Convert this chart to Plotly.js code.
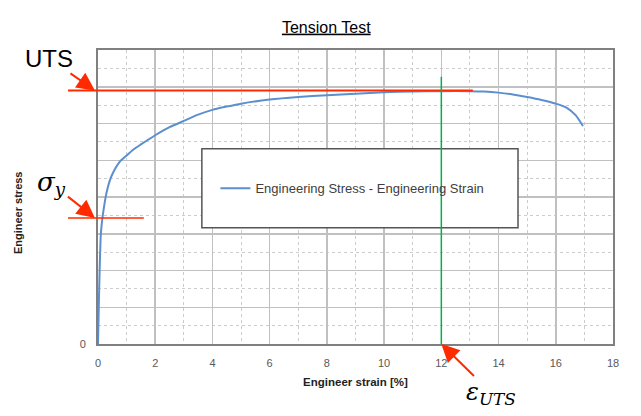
<!DOCTYPE html>
<html>
<head>
<meta charset="utf-8">
<script src="https://cdn.plot.ly/plotly-3.0.1.min.js"></script>
<style>html,body{margin:0;padding:0;background:#fff;}#chart{width:641px;height:416px;}</style>
</head>
<body>
<div id="chart"></div>
<script>
// Engineering strain [%] and engineering stress (arbitrary units, axis unlabelled)
var strain = [0, 0.03, 0.06, 0.1, 0.15, 0.2, 0.25, 0.3, 0.4, 0.5, 0.75, 1.0, 1.25, 1.5, 2.0, 2.5, 3.0, 3.5, 4.0, 4.5, 5.0, 6.0, 7.0, 8.0, 9.0, 10.0, 11.0, 12.0, 13.0, 13.5, 14.0, 14.5, 15.0, 15.5, 16.0, 16.4, 16.7, 16.95];
var stress = [0, 1.1, 2.1, 3.0, 3.4, 3.68, 3.92, 4.12, 4.42, 4.62, 4.95, 5.13, 5.3, 5.43, 5.68, 5.9, 6.07, 6.24, 6.37, 6.46, 6.54, 6.65, 6.72, 6.77, 6.81, 6.85, 6.87, 6.88, 6.88, 6.87, 6.84, 6.79, 6.72, 6.64, 6.54, 6.42, 6.22, 5.93];
var xTicks = [0, 2, 4, 6, 8, 10, 12, 14, 16, 18];
var yTicks = [0, 1, 2, 3, 4, 5, 6, 7, 8];
var yTickText = ['0', '', '', '', '', '', '', '', ''];
var seriesName = 'Engineering Stress - Engineering Strain';
var utsStress = 6.9;      // UTS marker line level
var utsLineEnd = 13.1;    // strain where the UTS line stops
var yieldStress = 3.43;   // yield marker line level
var yieldLineEnd = 1.6;   // strain where the yield line stops
var utsStrain = 12;       // strain at UTS (green line)
var utsStrainTop = 7.27;  // top of green line
var markerStart = -1.05;  // marker lines start left of the axis (strain units)
var legendBox = {x0: 3.63, x1: 14.68, y0: 3.16, y1: 5.31};

var xMax = 18, yMax = 8;
function px(v) { return v / xMax; }
function py(v) { return v / yMax; }

var red = '#ff2a00';
var trace = {
  x: strain, y: stress, type: 'scatter', mode: 'lines', name: seriesName,
  line: {color: '#5b8fcf', width: 2, shape: 'spline', smoothing: 0.6}, showlegend: true
};

var layout = {
  width: 641, height: 416,
  margin: {l: 98, r: 28, t: 50, b: 72},
  paper_bgcolor: '#fff', plot_bgcolor: '#fff',
  font: {family: 'Liberation Sans, Arial, sans-serif'},
  title: {text: '<u>Tension Test</u>', font: {size: 16, color: '#000'},
          xref: 'container', yref: 'container', x: 0.509, y: 0.935, xanchor: 'center', yanchor: 'middle'},
  xaxis: {
    range: [0, xMax], tickmode: 'array', tickvals: xTicks, ticktext: xTicks.map(String),
    showgrid: true, gridcolor: '#c0c0c0', gridwidth: 1.5,
    minor: {dtick: 1, tick0: 0, showgrid: true, gridcolor: '#cccccc', griddash: 'dot', gridwidth: 1},
    showline: true, linecolor: '#808080', linewidth: 2, mirror: true,
    zeroline: false, ticks: '', ticklabelstandoff: 8,
    tickfont: {size: 11, color: '#595959'},
    title: {text: '<b>Engineer strain [%]</b>', font: {size: 11.5, color: '#222'}, standoff: 10}
  },
  yaxis: {
    range: [0, yMax], tickmode: 'array', tickvals: yTicks, ticktext: yTickText,
    showgrid: true, gridcolor: '#c0c0c0', gridwidth: 1.5,
    minor: {dtick: 0.5, tick0: 0, showgrid: true, gridcolor: '#cccccc', griddash: 'dot', gridwidth: 1},
    showline: true, linecolor: '#808080', linewidth: 2, mirror: true,
    zeroline: false, ticks: '', ticklabelstandoff: 8,
    tickfont: {size: 11, color: '#595959'}
  },
  showlegend: true,
  legend: {x: 0.228, y: py((legendBox.y0 + legendBox.y1) / 2), xanchor: 'left', yanchor: 'middle',
           bgcolor: 'rgba(0,0,0,0)', borderwidth: 0,
           font: {size: 13, color: '#404040'}},
  shapes: [
    {type: 'rect', xref: 'paper', yref: 'paper', x0: px(legendBox.x0), x1: px(legendBox.x1),
     y0: py(legendBox.y0), y1: py(legendBox.y1), fillcolor: '#fff', line: {color: '#555', width: 1.5}, layer: 'above'},
    {type: 'line', xref: 'paper', yref: 'paper', x0: px(markerStart), x1: px(utsLineEnd),
     y0: py(utsStress), y1: py(utsStress), line: {color: red, width: 2}},
    {type: 'line', xref: 'paper', yref: 'paper', x0: px(markerStart), x1: px(yieldLineEnd),
     y0: py(yieldStress), y1: py(yieldStress), line: {color: red, width: 1.5}},
    {type: 'line', xref: 'paper', yref: 'paper', x0: px(utsStrain), x1: px(utsStrain),
     y0: 0, y1: py(utsStrainTop), line: {color: '#00b050', width: 1.5}, layer: 'above'}
  ],
  annotations: [
    {text: 'UTS', xref: 'paper', yref: 'paper', x: -0.006, y: py(utsStress), showarrow: true,
     ax: -46, ay: -32, arrowhead: 2, arrowsize: 1.8, arrowwidth: 2, arrowcolor: red, standoff: 0,
     font: {size: 24, color: '#000'}},
    {text: '<i>σ<sub>y</sub></i>', xref: 'paper', yref: 'paper', x: -0.006, y: py(yieldStress), showarrow: true,
     ax: -43, ay: -34, arrowhead: 2, arrowsize: 1.8, arrowwidth: 2, arrowcolor: red, standoff: 0,
     font: {size: 26, color: '#000', family: 'DejaVu Serif, Liberation Serif, serif'}},
    {text: '<i>ε<sub>UTS</sub></i>', xref: 'x', yref: 'paper', x: utsStrain, y: 0, showarrow: true,
     ax: 50, ay: 49, arrowhead: 2, arrowsize: 1.8, arrowwidth: 2, arrowcolor: red, standoff: 0,
     font: {size: 24, color: '#000', family: 'DejaVu Serif, Liberation Serif, serif'}},
    {text: '<b>Engineer stress</b>', xref: 'paper', yref: 'paper', x: -0.155, y: 0.446, showarrow: false,
     textangle: -90, font: {size: 11, color: '#222'}, xanchor: 'center', yanchor: 'middle'}
  ]
};

Plotly.newPlot('chart', [trace], layout, {displayModeBar: false, staticPlot: true});
</script>
</body>
</html>
